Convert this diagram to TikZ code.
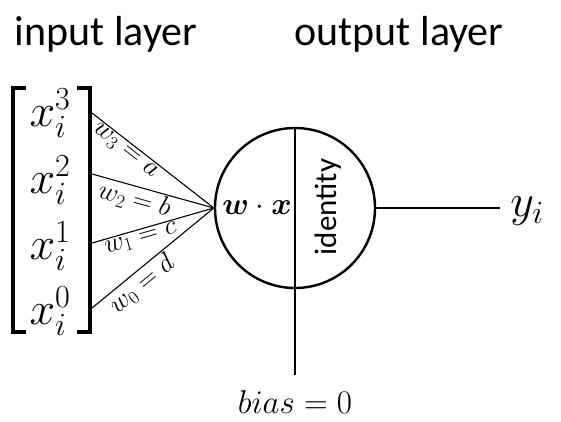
\RequirePackage{fix-cm}
\documentclass[tikz,border=0pt]{standalone}
\usepackage{amsmath}
\usepackage[no-math]{fontspec}
\setmainfont{Carlito}
\begin{document}
\begin{tikzpicture}[x=1pt,y=-1pt,
  title/.style={font=\fontsize{42}{48}\selectfont, anchor=base},
  inp/.style={font=\fontsize{46}{52}\selectfont, inner sep=0pt},
  wlab/.style={font=\fontsize{27}{32}\selectfont, sloped, below, inner sep=1.5pt},
  thin line/.style={line width=1.1pt},
  bracket/.style={line width=3.2pt},
  neuron/.style={circle, draw, line width=2.4pt, minimum size=160pt, inner sep=0pt}]
\useasboundingbox (0,0) rectangle (561,421);
% titles
\node[title] (tin) at (106,45) {input layer};
\node[title] (tout) at (399,45) {output layer};
% input vector
\node[inp] (x3) at (50,113) {$x_i^3$};
\node[inp] (x2) at (50,180) {$x_i^2$};
\node[inp] (x1) at (50,246) {$x_i^1$};
\node[inp] (x0) at (50,311) {$x_i^0$};
\draw[bracket] (26,88) -- (13,88) -- (13,332) -- (26,332);
\draw[bracket] (77,88) -- (90,88) -- (90,332) -- (77,332);
\coordinate (i3) at (92,113);
\coordinate (i2) at (92,174);
\coordinate (i1) at (92,243);
\coordinate (i0) at (92,308);
% neuron
\node[neuron] (n) at (295,208) {};
\draw[line width=2pt] (n.north) -- (n.south);
\node[font=\fontsize{31}{35}\selectfont] (wx) at (257,208) {$\boldsymbol{w}\cdot\boldsymbol{x}$};
\node[font=\fontsize{31}{35}\selectfont, rotate=90] (id) at (328,207) {identity};
% weights
\draw[thin line] (i3) -- node[wlab, pos=0.32] {$w_3=a$} (n.west);
\draw[thin line] (i2) -- node[wlab, pos=0.38] {$w_2=b$} (n.west);
\draw[thin line] (i1) -- node[wlab, pos=0.38] {$w_1=c$} (n.west);
\draw[thin line] (i0) -- node[wlab, pos=0.34] {$w_0=d$} (n.west);
% output
\coordinate (oend) at (500,208);
\draw[thin line] (n.east) -- (oend);
\node[inp] (y) at (527,211) {$y_i$};
% bias
\coordinate (bend) at (295,375);
\draw[thin line] (n.south) -- (bend);
\node[font=\fontsize{33}{37}\selectfont, anchor=base] (bias) at (295,413) {$bias=0$};
\end{tikzpicture}
\end{document}
